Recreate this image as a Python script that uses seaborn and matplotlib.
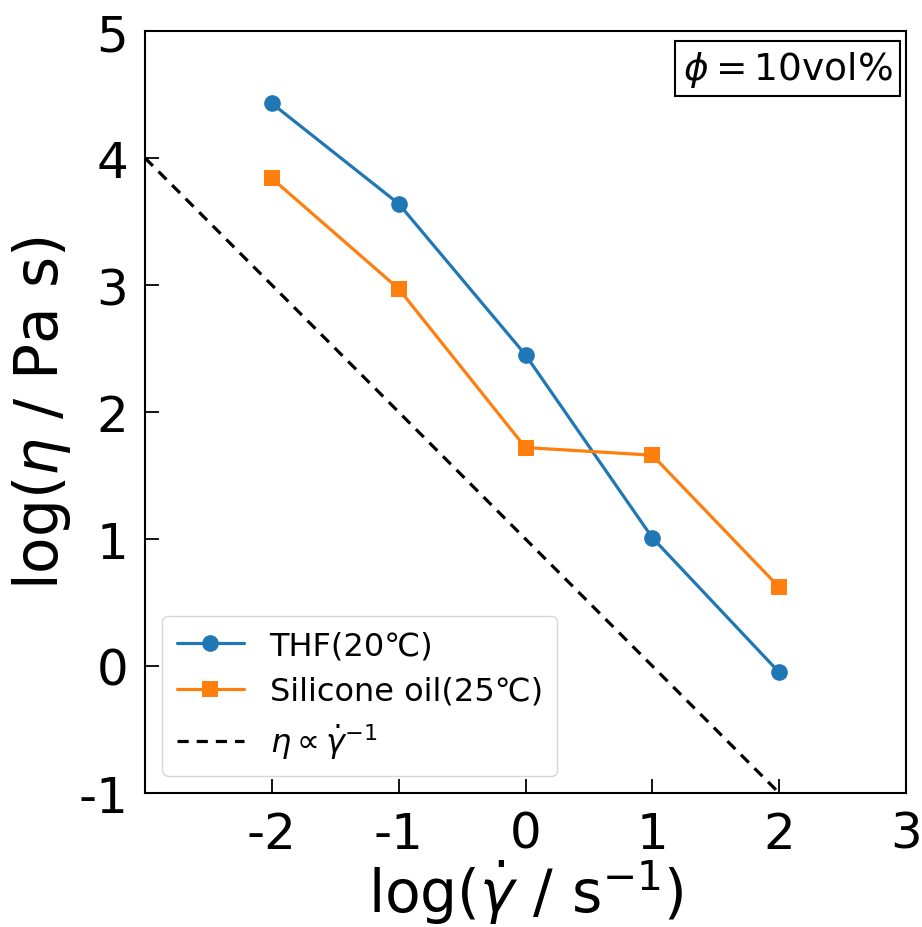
import matplotlib
matplotlib.use("Agg")
import matplotlib.pyplot as plt
import seaborn as sns
import pandas as pd
import numpy as np

sns.set_theme(style="white")
plt.rcParams['font.family'] = ['DejaVu Sans']
plt.rcParams['axes.unicode_minus'] = False
plt.rcParams['mathtext.fontset'] = 'dejavusans'
plt.rcParams['text.color'] = 'black'
plt.rcParams['axes.labelcolor'] = 'black'

log_rate = [-2, -1, 0, 1, 2]
thf = [4.43, 3.64, 2.45, 1.01, -0.05]
silicone = [3.84, 2.97, 1.72, 1.66, 0.62]
ref_x = [-3, 2]
ref_y = [4, -1]

df = pd.DataFrame({"x": log_rate * 2,
                   "y": thf + silicone,
                   "s": ["THF(20℃)"] * 5 + ["Silicone oil(25℃)"] * 5})

fig = plt.figure(figsize=(9.22, 9.28), dpi=100)
ax = fig.add_axes([145/922, 1-794/928, (906-145)/922, (794-32)/928])

sns.lineplot(data=df, x="x", y="y", hue="s", style="s",
             markers={"THF(20℃)": "o", "Silicone oil(25℃)": "s"},
             dashes=False, palette=["#1f77b4", "#ff7f0e"], markersize=12,
             linewidth=2.3, markeredgewidth=0, ax=ax)
ax.plot(ref_x, ref_y, ls=(0, (3.5, 2.5)), color="black", lw=2.3,
        label=r"$\eta \propto \dot{\gamma}^{-1}$")

ax.set_xlim(-3, 3)
ax.set_ylim(-1, 5)
ax.set_xticks([-2, -1, 0, 1, 2, 3])
ax.set_yticks([-1, 0, 1, 2, 3, 4, 5])
ax.tick_params(direction="in", length=10, width=1.3, labelsize=36, pad=12,
               bottom=True, left=True, colors="black")
for s in ax.spines.values():
    s.set_color("black")
    s.set_linewidth(1.5)
ax.set_xlabel(r"log($\dot{\gamma}$ / s$^{-1}$)", fontsize=42, color="black", labelpad=0)
ax.set_ylabel(r"log($\eta$ / Pa s)", fontsize=43, color="black", labelpad=4)

handles, labels = ax.get_legend_handles_labels()
leg = ax.legend(handles, labels, loc="lower left", fontsize=23, frameon=True,
                borderpad=0.45, handlelength=2.1, labelspacing=0.45,
                bbox_to_anchor=(0.002, 0.002))
leg.get_frame().set_edgecolor("#cccccc")
for t in leg.get_texts():
    t.set_color("black")

ax.text(0.982, 0.977, r"$\phi = 10$vol%", transform=ax.transAxes, ha="right", va="top",
        fontsize=27, color="black",
        bbox=dict(boxstyle="square,pad=0.2", fc="white", ec="black", lw=1.5))

fig.savefig("out.png", dpi=100)
